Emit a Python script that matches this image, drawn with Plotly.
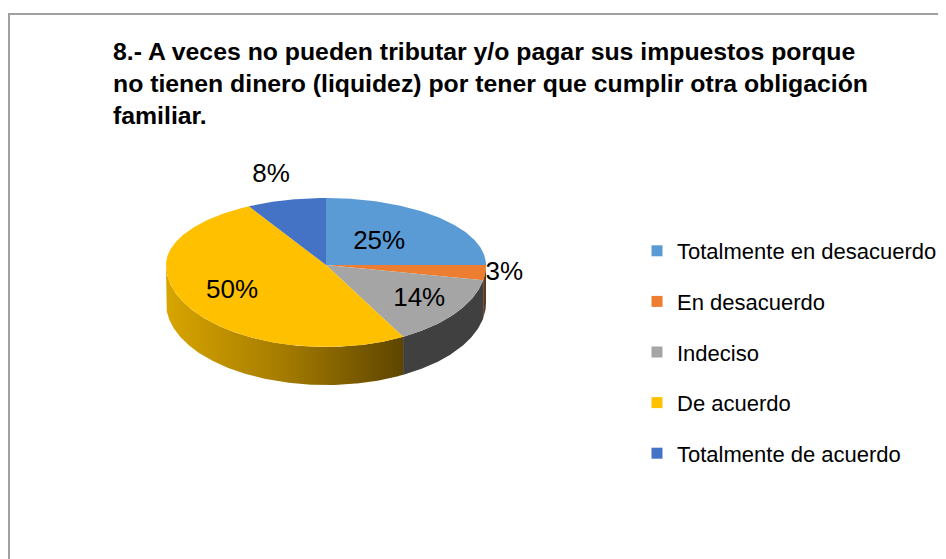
import numpy as np
import plotly.graph_objects as go

# ---- data ----
categories = ["Totalmente en desacuerdo", "En desacuerdo", "Indeciso",
              "De acuerdo", "Totalmente de acuerdo"]
values = [25, 3, 14, 50, 8]
pct_labels = ["25%", "3%", "14%", "50%", "8%"]
title_lines = ["8.- A veces no pueden tributar y/o pagar sus impuestos porque",
               "no tienen dinero (liquidez) por tener que cumplir otra obligación",
               "familiar."]

# ---- style ----
top_colors = ["#5B9BD5", "#ED7D31", "#A5A5A5", "#FFC000", "#4472C4"]
side_colors = ["#3F6E9C", "#5A3A22", "#404040", None, "#2F528F"]
yellow_side_scale = [[0, "#D8A500"], [0.5, "#A47B00"], [1, "#5E4500"]]
label_r = [0.47, 1.12, 0.72, 0.67, 1.38]

# page body has an 8px margin: figure sized so it fits the 946x559 window
OFF = 8
W, H = 946 - OFF, 559 - OFF
cx, cy, rx = 326, 265, 160
ry_back, ry_front, depth = 67, 82, 38


def ex(t):
    return cx + rx * np.sin(np.radians(t))


def ey(t):
    c = np.cos(np.radians(t))
    return cy - np.where(c > 0, ry_back, ry_front) * c


total = float(sum(values))
starts = np.concatenate([[0], np.cumsum(values)[:-1]]) / total * 360
ends = np.cumsum(values) / total * 360

fig = go.Figure()

# side walls (front half only)
for i in range(len(values)):
    s, e = max(starts[i], 90), min(ends[i], 270)
    if e <= s:
        continue
    t = np.linspace(s, e, max(int((e - s) * 2), 4))
    xs = np.concatenate([ex(t), ex(t[::-1])])
    ys = np.concatenate([ey(t), ey(t[::-1]) + depth])
    kw = dict(fill="toself", mode="lines", line=dict(width=0),
              showlegend=False, hoverinfo="skip", x=xs, y=ys)
    if side_colors[i] is None:
        kw["fillgradient"] = dict(type="horizontal", colorscale=yellow_side_scale)
    else:
        kw["fillcolor"] = side_colors[i]
    fig.add_trace(go.Scatter(**kw))

# top faces
for i in range(len(values)):
    t = np.linspace(starts[i], ends[i], max(int((ends[i] - starts[i]) * 2), 4))
    xs = np.concatenate([[cx], ex(t), [cx]])
    ys = np.concatenate([[cy], ey(t), [cy]])
    fig.add_trace(go.Scatter(x=xs, y=ys, fill="toself", mode="lines",
                             line=dict(width=0), fillcolor=top_colors[i],
                             showlegend=False, hoverinfo="text",
                             text=f"{categories[i]}: {pct_labels[i]}"))

# percentage labels
mids = (starts + ends) / 2
lx = [float(cx + (ex(m) - cx) * k) for m, k in zip(mids, label_r)]
ly = [float(cy + (ey(m) - cy) * k) for m, k in zip(mids, label_r)]
fig.add_trace(go.Scatter(x=lx, y=ly, mode="text", text=pct_labels,
                         textfont=dict(family="Liberation Sans, Arial", size=26,
                                       color="#000000"),
                         showlegend=False, hoverinfo="skip"))

# legend entries
for i, c in enumerate(categories):
    fig.add_trace(go.Scatter(x=[None], y=[None], mode="markers", name=c,
                             legendgroup=c,
                             marker=dict(symbol="square", size=11,
                                         color=top_colors[i])))

fig.add_annotation(x=111, y=36, xref="x", yref="y", xanchor="left", yanchor="top",
                   align="left", showarrow=False,
                   text="<b>" + "<br>".join(title_lines) + "</b>",
                   font=dict(family="Liberation Sans, Arial", size=24.8,
                             color="#000000"))

fig.add_shape(type="rect", xref="x", yref="y",
              x0=9, y0=14, x1=970, y1=590,
              line=dict(color="#A0A0A0", width=2), fillcolor="rgba(0,0,0,0)",
              layer="below")

fig.update_layout(
    width=W, height=H, autosize=False,
    margin=dict(l=0, r=0, t=0, b=0, pad=0, autoexpand=False),
    paper_bgcolor="white", plot_bgcolor="white",
    xaxis=dict(range=[OFF, OFF + W], visible=False, fixedrange=True),
    yaxis=dict(range=[OFF + H, OFF], visible=False, fixedrange=True),
    legend=dict(x=629 / W, y=1 - 222 / H, xanchor="left", yanchor="top",
                font=dict(family="Liberation Sans, Arial", size=22, color="#000000"),
                tracegroupgap=19, bgcolor="rgba(0,0,0,0)"),
    showlegend=True,
)

fig.write_html("out.html")
